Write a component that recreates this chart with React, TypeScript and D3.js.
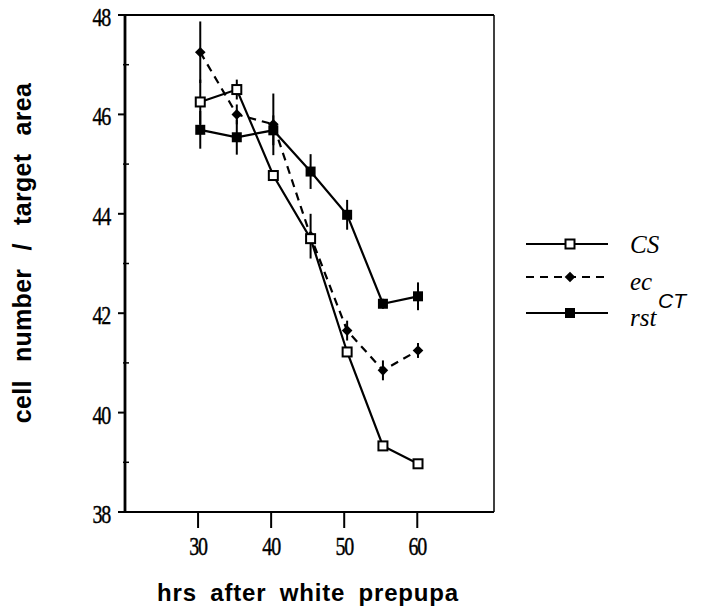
import React from 'react'
import * as d3 from 'd3'

// hours after white prepupa (points sit a little right of the round values)
const hours = [30.3, 35.3, 40.3, 45.4, 50.4, 55.3, 60.1]
const csValues = [46.25, 46.5, 44.77, 43.5, 41.22, 39.33, 38.97]
const csErrors = [0.45, 0.2, 0.05, 0.05, 0.1, 0.05, 0.05]
const ecValues = [47.25, 46.0, 45.8, 43.55, 41.65, 40.85, 41.25]
const ecErrors = [0.62, 0.2, 0.62, 0.45, 0.2, 0.2, 0.15]
const rstValues = [45.69, 45.54, 45.68, 44.85, 43.98, 42.19, 42.34]
const rstErrors = [0.38, 0.35, 0.3, 0.35, 0.3, 0.1, 0.28]

const xTicks = [30, 40, 50, 60]
const yTicks = [38, 40, 42, 44, 46, 48]
const yMinorTicks = [39, 41, 43, 45, 47]

const W = 704, H = 608
const margin = { top: 15, right: 210, bottom: 96, left: 125 }

const serif = 'Liberation Serif'
const sans = 'Liberation Sans'

const x = d3.scaleLinear().domain([20, 70.5]).range([margin.left, W - margin.right])
const y = d3.scaleLinear().domain([38, 48]).range([H - margin.bottom, margin.top])

const line = d3.line<[number, number]>().x(d => x(d[0])).y(d => y(d[1]))
const pts = (vals: number[]) => hours.map((h, i) => [h, vals[i]] as [number, number])

const diamond = d3.symbol(d3.symbolSquare, 56)()

const ErrorBars = ({ vals, errs }: { vals: number[], errs: number[] }) => (
  <g stroke="#000" strokeWidth={2}>
    {hours.map((h, i) => (
      <line key={i} x1={x(h)} x2={x(h)} y1={y(vals[i] + errs[i])} y2={y(vals[i] - errs[i])} />
    ))}
  </g>
)

const OpenSquare = ({ cx, cy }: { cx: number, cy: number }) => (
  <rect x={cx - 4.5} y={cy - 4.5} width={9} height={9} fill="#fff" stroke="#000" strokeWidth={2} />
)
const FilledSquare = ({ cx, cy }: { cx: number, cy: number }) => (
  <rect x={cx - 5} y={cy - 5} width={10} height={10} fill="#000" />
)
const Diamond = ({ cx, cy }: { cx: number, cy: number }) => (
  <path d={diamond || ''} transform={`translate(${cx},${cy}) rotate(45)`} fill="#000" />
)

// narrow serif numerals, like the condensed Times of the original
const Num = ({ tx, ty, anchor, children }: { tx: number, ty: number, anchor: string, children: React.ReactNode }) => (
  <text transform={`translate(${tx},${ty}) scale(0.8,1)`} textAnchor={anchor}
    fontFamily={serif} fontSize={25} letterSpacing={-1.5} stroke="#000" strokeWidth={0.4}>{children}</text>
)

export default function App() {
  const x0 = x.range()[0], x1 = x.range()[1]
  const y0 = y.range()[0], y1 = y.range()[1]
  return (
    <svg width={W} height={H} style={{ position: 'absolute', left: 0, top: 0, background: '#fff' }}>
      <rect width={W} height={H} fill="#fff" />

      {/* frame */}
      <line x1={x0} x2={x1} y1={y1} y2={y1} stroke="#000" strokeWidth={2} />
      <line x1={x1} x2={x1} y1={y1} y2={y0} stroke="#000" strokeWidth={1.5} />
      <line x1={x0 - 6} x2={x1} y1={y0} y2={y0} stroke="#000" strokeWidth={2.2} />
      <line x1={x0} x2={x0} y1={y1} y2={y0} stroke="#000" strokeWidth={2.8} />

      {/* y axis */}
      {yTicks.map(t => (
        <g key={t}>
          <line x1={x0 - 7} x2={x0} y1={y(t)} y2={y(t)} stroke="#000" strokeWidth={2} />
          <Num tx={x0 - 15} ty={y(t) + 11} anchor="end">{t}</Num>
        </g>
      ))}
      {yMinorTicks.map(t => (
        <line key={t} x1={x0 - 2} x2={x0 + 4} y1={y(t)} y2={y(t)} stroke="#000" strokeWidth={1.5} />
      ))}

      {/* x axis */}
      {xTicks.map(t => (
        <g key={t}>
          <line x1={x(t)} x2={x(t)} y1={y0} y2={y0 + 16} stroke="#000" strokeWidth={2} />
          <Num tx={x(t)} ty={y0 + 43} anchor="middle">{t}</Num>
        </g>
      ))}

      {/* titles */}
      <text x={308} y={601} textAnchor="middle" fontFamily={sans} fontWeight="bold" fontSize={24}
        letterSpacing={0.8} wordSpacing={6}>hrs after white prepupa</text>
      <text transform="translate(31,253) rotate(-90)" textAnchor="middle" fontFamily={sans} fontWeight="bold"
        fontSize={25} letterSpacing={0.3} wordSpacing={11}>cell number / target area</text>

      {/* series lines */}
      <path d={line(pts(rstValues)) || ''} fill="none" stroke="#000" strokeWidth={2.2} />
      <path d={line(pts(ecValues)) || ''} fill="none" stroke="#000" strokeWidth={2.2} strokeDasharray="8,6" />
      <path d={line(pts(csValues)) || ''} fill="none" stroke="#000" strokeWidth={2.2} />

      <ErrorBars vals={rstValues} errs={rstErrors} />
      <ErrorBars vals={ecValues} errs={ecErrors} />
      <ErrorBars vals={csValues} errs={csErrors} />

      {hours.map((h, i) => <FilledSquare key={'r' + i} cx={x(h)} cy={y(rstValues[i])} />)}
      {hours.map((h, i) => <Diamond key={'e' + i} cx={x(h)} cy={y(ecValues[i])} />)}
      {hours.map((h, i) => <OpenSquare key={'c' + i} cx={x(h)} cy={y(csValues[i])} />)}

      {/* legend */}
      <line x1={526} x2={608} y1={244} y2={244} stroke="#000" strokeWidth={2} />
      <OpenSquare cx={570} cy={244} />
      <text x={630} y={253} fontFamily={serif} fontStyle="italic" fontSize={25}>CS</text>

      <line x1={526} x2={608} y1={277} y2={277} stroke="#000" strokeWidth={2} strokeDasharray="8,6" />
      <Diamond cx={570} cy={277} />
      <text x={630} y={290} fontFamily={serif} fontStyle="italic" fontSize={25}>ec</text>

      <line x1={526} x2={608} y1={313} y2={313} stroke="#000" strokeWidth={2} />
      <FilledSquare cx={570} cy={313} />
      <text x={630} y={326} fontFamily={serif} fontStyle="italic" fontSize={25}>rst</text>
      <text x={658} y={308} fontFamily={sans} fontStyle="italic" fontSize={21}>CT</text>
    </svg>
  )
}
